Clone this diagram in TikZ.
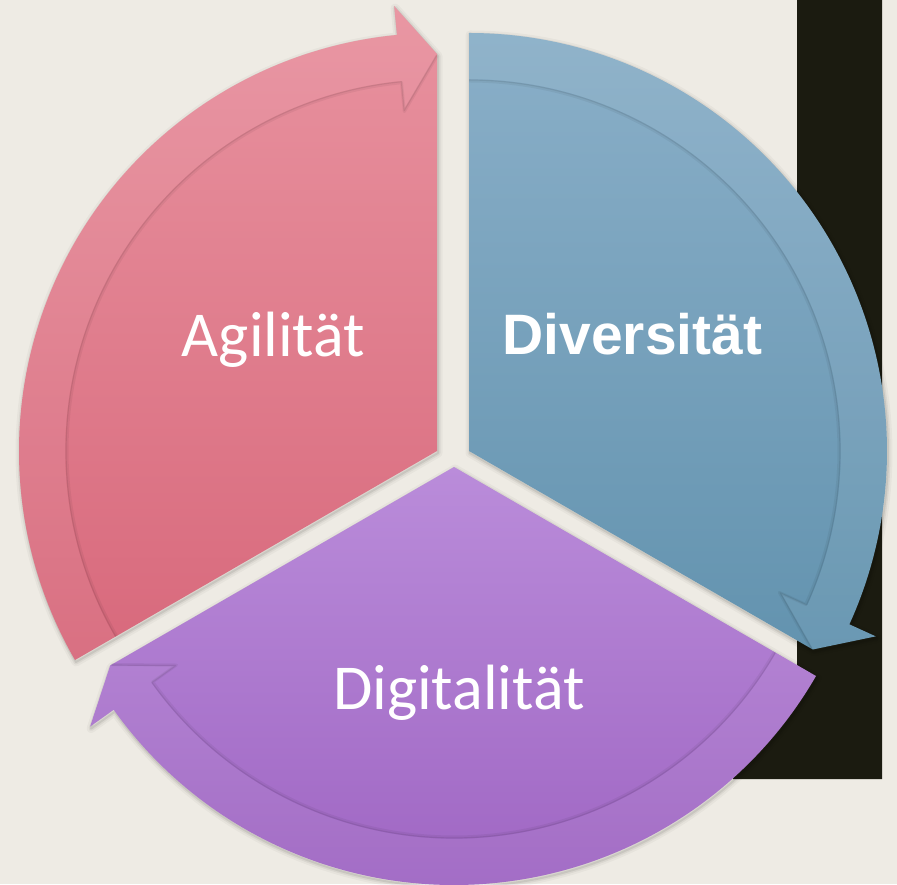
\documentclass[tikz,border=0pt]{standalone}
\usepackage{fontspec}
\newfontfamily\carl{Carlito}
\newfontfamily\libs{Liberation Sans}
\definecolor{bg}{HTML}{EEEBE4}
\definecolor{darkbox}{HTML}{1B1B10}
\definecolor{pinktop}{HTML}{E8929F}
\definecolor{pinkbot}{HTML}{D8697C}
\definecolor{bluetop}{HTML}{8AAFC8}
\definecolor{bluebot}{HTML}{6393AF}
\definecolor{purptop}{HTML}{BA8CDA}
\definecolor{purpbot}{HTML}{9F66C3}
\tikzset{
  haloA/.style={draw=black, line width=9pt, opacity=0.03, line join=round},
  haloB/.style={draw=black, line width=5pt, opacity=0.05, line join=round},
  haloC/.style={draw=black, line width=2pt, opacity=0.08, line join=round},
  bandfill/.style={fill=white, fill opacity=0.05},
  edgeA/.style={draw=black, line width=3pt, opacity=0.05, line join=round},
  edgeB/.style={draw=black, line width=1.2pt, opacity=0.08, line join=round},
  lbl/.style={text=white, inner sep=0pt, anchor=base}
}
\newcommand{\cycseg}[5]{%
  \begin{scope}[shift={#1}]
    \pgfmathsetmacro\bs{#3+5.5}
    \begin{scope}[shift={(1,-2)}]
      \foreach \hs in {haloA,haloB,haloC}{
        \path[\hs] (0,0) -- (#2:418) arc[start angle=#2,end angle=\bs,radius=418]
          -- (\bs:447) -- (#3:397) -- cycle;}
    \end{scope}
    \path[top color=#4, bottom color=#5] (0,0) -- (#2:418)
      arc[start angle=#2,end angle=\bs,radius=418] -- (\bs:447) -- (#3:397) -- cycle;
    \path[edgeA] (#2:370) arc[start angle=#2,end angle=\bs,radius=370] -- (\bs:341) -- (#3:395);
    \path[edgeB] (#2:371) arc[start angle=#2,end angle=\bs,radius=371] -- (\bs:342) -- (#3:396);
    \path[bandfill] (#2:372) -- (#2:418) arc[start angle=#2,end angle=\bs,radius=418]
      -- (\bs:447) -- (#3:397) -- (\bs:343) -- (\bs:372)
      arc[start angle=\bs,end angle=#2,radius=372] -- cycle;
  \end{scope}}
\begin{document}
\begin{tikzpicture}[x=1pt,y=1pt]
  \fill[bg] (0,0) rectangle (897,884);
  \useasboundingbox (0,0) rectangle (897,884);
  % dark box behind the cycle
  \fill[darkbox] (797,884) -- (882,884) -- (882,105) -- (733,105) -- (733,184)
    -- (797,204) -- cycle;
  % segments
  \cycseg{(437,433)}{210}{90}{pinktop}{pinkbot}
  \cycseg{(469,433)}{90}{-30}{bluetop}{bluebot}
  \cycseg{(454,417)}{-30}{-150}{purptop}{purpbot}
  % labels
  \node[lbl] (agil) at (273.5,527) {\carl\fontsize{64}{70}\selectfont Agilität};
  \node[lbl] (div) at (632.5,529) {\libs\bfseries\fontsize{57}{64}\selectfont Diversität};
  \node[lbl] (digi) at (459,174) {\carl\fontsize{64}{70}\selectfont Digitalität};
\end{tikzpicture}
\end{document}
